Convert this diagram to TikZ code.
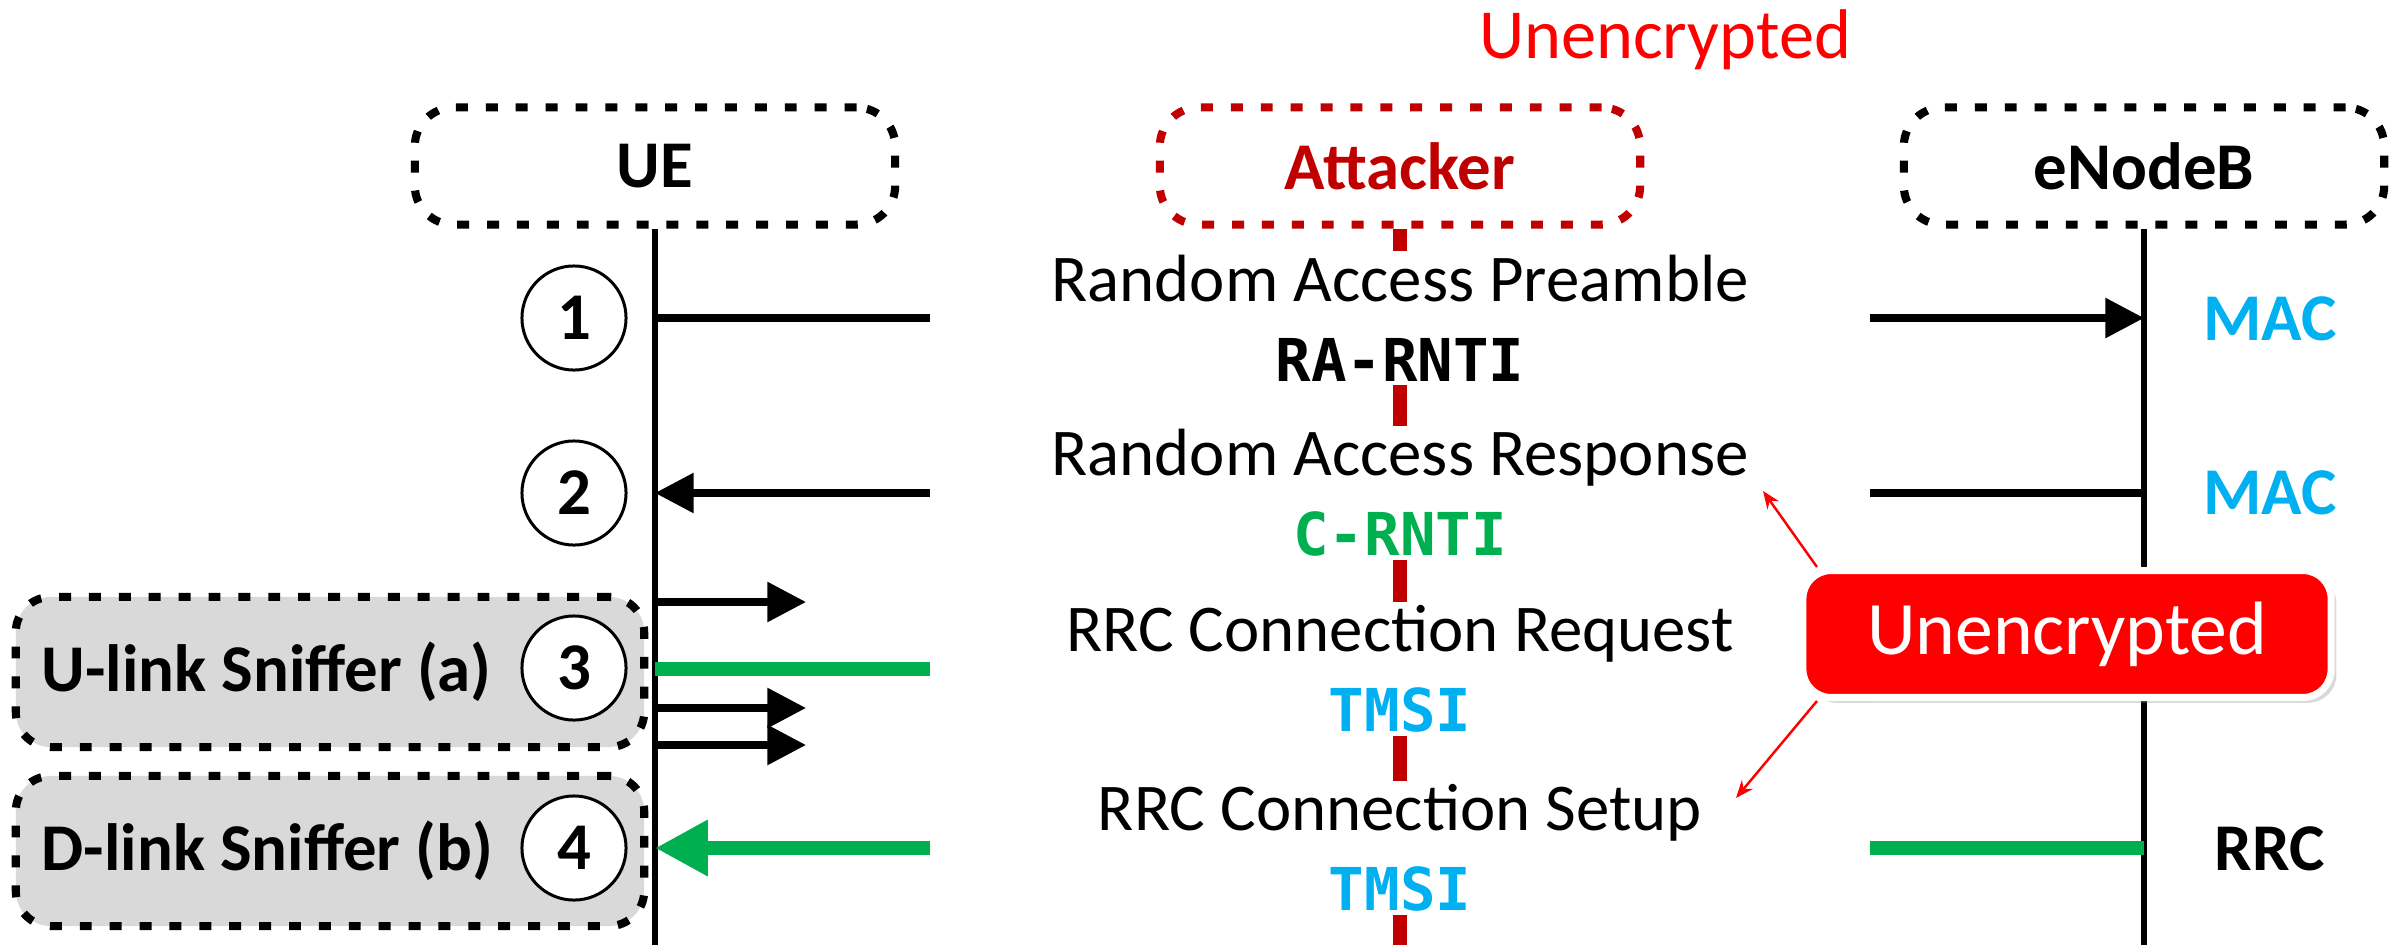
\documentclass[tikz,border=0pt]{standalone}
\usepackage{fontspec}
\setmainfont{Carlito}
\newfontfamily\codefont{DejaVu Sans Mono}
\usetikzlibrary{arrows.meta,positioning,shadows}
\definecolor{atk}{HTML}{C00000}
\definecolor{layer}{HTML}{00B0F0}
\definecolor{ident}{HTML}{00B050}
\definecolor{sniff}{HTML}{D9D9D9}
\definecolor{alert}{HTML}{FF0000}
\newcommand\rnti[2]{{\color{#1}\codefont\fontsize{16.8}{22.8}\selectfont\bfseries #2}}

\begin{document}
\begin{tikzpicture}[x=0.01cm,y=-0.01cm,>={Triangle[length=11pt,width=11pt]},
  lab/.style={font=\fontsize{19}{22.8}\selectfont},
  head/.style={draw,rounded corners=11pt,line width=2.3pt,dash pattern=on 3.4pt off 5.1pt,minimum width=136.6pt,minimum height=33.3pt,font=\fontsize{19}{22.8}\selectfont\bfseries},
  life/.style={line width=1.5pt},
  msg/.style={line width=2pt},
  gmsg/.style={ident,line width=4pt},
  msgtext/.style={lab,fill=white,align=center,inner ysep=1pt,minimum width=267.5pt},
  numc/.style={circle,draw,fill=white,line width=0.85pt,minimum size=29.6pt,inner sep=0pt,font=\fontsize{19}{22.8}\selectfont\bfseries},
  tag/.style={font=\fontsize{19}{22.8}\selectfont\bfseries},
  sniffbox/.style={head,fill=sniff,rounded corners=10pt,minimum width=178.7pt,minimum height=42.7pt},
  note/.style={alert,line width=0.7pt,-{Stealth[length=5pt,width=4pt]}}]
  \useasboundingbox (0,0) rectangle (2400,945);
  % heads and lifelines
  \node[head] (ue) at (655,166) {UE};
  \node[head,draw=atk,text=atk] (att) at (1400,166) {Attacker};
  \node[head] (enb) at (2144,166) {eNodeB};
  \coordinate (bot) at (0,945);
  \draw[life] (ue.south) -- (ue.south |- bot);
  \draw[life] (enb.south) -- (enb.south |- bot);
  \draw[atk,line width=4pt] (att.south) -- (att.south |- bot);
  % messages
  \coordinate (y1) at (0,318);
  \coordinate (y2) at (0,493);
  \coordinate (y3) at (0,669);
  \coordinate (y4) at (0,848);
  \draw[msg,->] (ue.south |- y1) -- (enb.south |- y1);
  \draw[msg,<-] (ue.south |- y2) -- (enb.south |- y2);
  \draw[gmsg] (ue.south |- y3) -- (enb.south |- y3);
  \draw[gmsg,{Triangle[length=15pt,width=15pt]}-] (ue.south |- y4) -- (enb.south |- y4);
  \foreach \y in {602,708,745}{\draw[msg,->] (ue.south |- 0,\y) -- ++(151,0);}
  \node[msgtext] (m1) at (1400,318) {Random Access Preamble\\\rnti{black}{RA-RNTI}};
  \node[msgtext] (m2) at (1400,493) {Random Access Response\\\rnti{ident}{C-RNTI}};
  \node[msgtext] (m3) at (1400,669) {RRC Connection Request\\\rnti{layer}{TMSI}};
  \node[msgtext] (m4) at (1400,848) {RRC Connection Setup\\\rnti{layer}{TMSI}};
  % sniffers and step numbers
  \node[sniffbox] (snA) at (330,672) {};
  \node[tag,right=5pt of snA.west] (snAl) {U-link Sniffer (a)};
  \node[sniffbox] (snB) at (330,851) {};
  \node[tag,right=5pt of snB.west] (snBl) {D-link Sniffer (b)};
  \foreach \n/\y in {1/318,2/493,3/668,4/848}{\node[numc] (n\n) at (574,\y) {\n};}
  % layers
  \node[tag,text=layer] (mac1) at (2270,319) {MAC};
  \node[tag,text=layer] (mac2) at (2270,493) {MAC};
  \node[tag] (rrc) at (2270,849) {RRC};
  % unencrypted call-out
  \node[fill=alert,draw=white,line width=2pt,rounded corners=8pt,minimum width=150.2pt,minimum height=36.1pt,text=white,font=\fontsize{21.5}{25}\selectfont,drop shadow={shadow xshift=1.5pt,shadow yshift=-1.5pt,opacity=0.3}] (unc) at (2067,634) {Unencrypted};
  \coordinate (tipA) at (1763,491);
  \coordinate (tipB) at (1736,798);
  \draw[note] (unc.165) -- (tipA);
  \draw[note] (unc.195) -- (tipB);
  \node[text=alert,font=\fontsize{20}{24}\selectfont,anchor=base] (toptag) at (1665,58) {Unencrypted};
\end{tikzpicture}
\end{document}
